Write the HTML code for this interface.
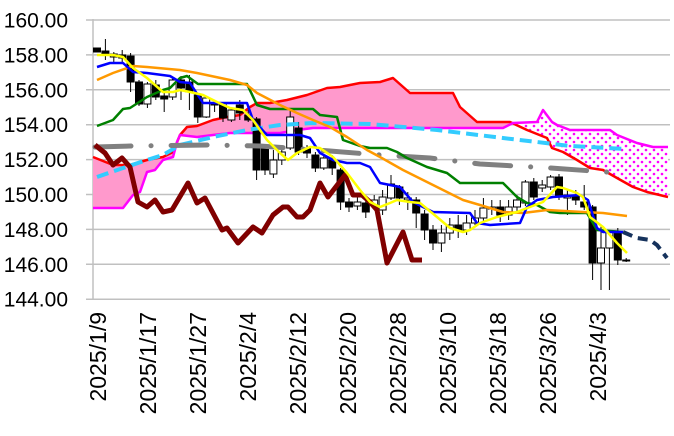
<!DOCTYPE html>
<html><head><meta charset="utf-8"><style>
html,body{margin:0;padding:0;background:#fff;}
svg{display:block;}
</style></head><body>
<svg id="c" width="674" height="436" xmlns="http://www.w3.org/2000/svg">
<defs>
<pattern id="dots" width="8" height="8" patternUnits="userSpaceOnUse">
<rect width="8" height="8" fill="#fff"/>
<circle cx="2" cy="2" r="1.3" fill="#ff00ff"/>
<circle cx="6" cy="6" r="1.3" fill="#ff00ff"/>
</pattern>
<clipPath id="cl"><rect x="0" y="0" width="513" height="436"/></clipPath>
<clipPath id="cr"><rect x="513" y="0" width="200" height="436"/></clipPath>
</defs>
<g id="grid" stroke="#c0c0c0" stroke-width="1.5"></g>
<g id="ylab" font-family="Liberation Sans, sans-serif" font-size="21" fill="#000" text-anchor="end"></g>
<g id="xlab" font-family="Liberation Sans, sans-serif" font-size="23" fill="#000"></g>
<g id="plot"></g>
</svg>
<script>
var NS="http://www.w3.org/2000/svg";
function el(p,t,a){var e=document.createElementNS(NS,t);for(var k in a)e.setAttribute(k,a[k]);p.appendChild(e);return e;}
var svg=document.getElementById('c');
var grid=document.getElementById('grid'),yl=document.getElementById('ylab'),xl=document.getElementById('xlab'),plot=document.getElementById('plot');
for(var v=160;v>=144;v-=2){var y=20+(160-v)*17.45;
 el(grid,'line',{x1:86,x2:670,y1:y,y2:y});
 var t=el(yl,'text',{x:68,y:y+7.5});t.textContent=v.toFixed(2);}
el(grid,'line',{x1:93,x2:93,y1:19,y2:300});
var labs=["2025/1/9","2025/1/17","2025/1/27","2025/2/4","2025/2/12","2025/2/20","2025/2/28","2025/3/10","2025/3/18","2025/3/26","2025/4/3"];
labs.forEach(function(s,k){var x=106+50*k;var t=el(xl,'text',{x:x,y:312,transform:'rotate(-90 '+x+' 312)','text-anchor':'end'});t.textContent=s;});
function P(a){return a.map(function(p){return p[0]+','+p[1]}).join(' ');}
var red=[[93,157],[113,165],[130,165],[147,160],[163,157],[173,152],[180,135],[187,127],[197,126],[213,120],[227,117],[240,115],[250,107],[257,103],[270,103],[287,100],[307,95],[327,88],[340,87],[360,83],[380,82],[393,78],[410,93],[453,93],[460,107],[477,122],[510,122],[527,130],[547,138],[552,148],[563,152],[577,160],[590,168],[603,170],[617,178],[633,187],[647,192],[668,197]];
var mag=[[93,208],[123,208],[133,195],[140,192],[147,172],[155,170],[163,160],[173,157],[177,142],[180,135],[197,137],[213,135],[230,133],[280,133],[297,130],[313,128],[503,128],[513,123],[537,122],[543,110],[552,122],[557,125],[570,130],[610,130],[617,135],[637,143],[653,147],[668,147]];
var poly=red.concat(mag.slice().reverse());
el(plot,'polygon',{points:P(poly),fill:'#ff99cc','clip-path':'url(#cl)'});
el(plot,'polygon',{points:P(poly),fill:'url(#dots)','clip-path':'url(#cr)'});
function line(pts,col,w,extra){var a={points:P(pts),fill:'none',stroke:col,'stroke-width':w,'stroke-linejoin':'round'};for(var k in extra)a[k]=extra[k];el(plot,'polyline',a);}
line(red,'#ff0000',2.5);line(mag,'#ff00ff',2.5);
var C=[[0,48,52,1,48,52],[1,51,54,1,39,60],[2,54,57,0,52,62],[3,55,58,1,50,63],[4,56,82,1,53,92],[5,82,104,1,80,106],[6,84,104,0,82,108],[7,85,97,1,80,100],[8,96,99,1,92,112],[9,80,97,0,78,100],[10,80,88,1,76,100],[11,82,92,1,75,110],[12,95,117,1,93,123],[13,98,117,0,96,118],[14,103,105,1,100,112],[15,105,118,1,104,122],[16,110,120,0,108,122],[17,105,113,1,100,120],[18,115,120,1,110,122],[19,119,170,1,117,180],[20,148,170,1,145,175],[21,160,174,0,150,178],[22,152,160,0,145,165],[23,117,148,0,110,150],[24,128,152,1,122,155],[25,148,153,1,145,158],[26,155,168,1,152,172],[27,158,168,0,155,170],[28,160,168,1,155,175],[29,170,202,1,168,210],[30,202,207,1,198,212],[31,202,206,0,195,210],[32,203,212,1,200,218],[33,200,205,0,195,210],[34,197,210,0,190,215],[35,184,198,0,175,200],[36,187,198,1,185,205],[37,198,200,0,192,210],[38,200,213,1,197,228],[39,214,230,1,210,240],[40,230,243,1,225,250],[41,233,243,0,225,252],[42,225,233,0,218,240],[43,225,230,1,215,238],[44,223,230,0,215,235],[45,218,223,0,210,225],[46,208,218,0,198,222],[47,207,209,0,200,215],[48,207,215,1,200,222],[49,207,215,0,200,220],[50,200,207,0,195,212],[51,182,203,0,180,206],[52,182,197,1,178,200],[53,185,188,0,180,192],[54,177,187,0,175,190],[55,177,197,1,174,200],[56,195,198,0,190,215],[57,195,200,1,190,205],[58,202,207,1,185,210],[59,207,263,1,205,280],[60,248,263,0,225,290],[61,232,248,0,230,290],[62,233,260,1,228,265],[63,260,261,0,258,262]];
C.forEach(function(c){var x=97+8.4*c[0];
 el(plot,'line',{x1:x,x2:x,y1:c[4],y2:c[5],stroke:'#000','stroke-width':1});
 el(plot,'rect',{x:x-3.5,y:c[1],width:7,height:Math.max(1,c[2]-c[1]),fill:c[3]?'#000':'#fff',stroke:'#000','stroke-width':1});});
var cyan=[[97,177],[123,168],[147,160],[163,155],[180,145],[213,137],[247,130],[280,125],[313,123],[370,124],[437,130],[503,138],[537,142],[570,146],[627,149]];
line(cyan,'#33ccff',4,{'stroke-dasharray':'12 6'});
var gray=[[95,147],[133,146],[210,145],[260,146],[330,151],[380,155],[430,158],[480,164],[550,168],[607,172]];
line(gray,'#808080',5,{'stroke-dasharray':'36 20 0.1 20','stroke-linecap':'round'});
var chik=[[95,145],[105,153],[113,165],[122,158],[130,167],[138,202],[147,207],[155,200],[163,212],[172,210],[188,183],[197,203],[205,198],[222,230],[227,228],[238,243],[253,227],[262,233],[273,215],[283,207],[288,207],[297,217],[303,217],[310,210],[320,183],[328,197],[345,175],[353,195],[362,195],[370,202],[377,210],[387,263],[403,232],[412,260],[422,260]];
line(chik,'#800000',5);
var green=[[97,126],[113,120],[123,109],[130,108],[147,97],[163,90],[170,88],[180,78],[187,76],[198,84],[247,84],[257,105],[270,109],[313,109],[320,115],[337,117],[343,140],[360,146],[370,148],[387,148],[397,152],[407,158],[427,167],[447,173],[460,183],[503,183],[517,197],[527,203],[537,205],[550,212],[560,213],[587,213],[597,230],[623,232]];
line(green,'#008000',2.5);
var orange=[[97,80],[113,73],[133,66],[147,67],[180,70],[197,73],[230,80],[247,85],[257,93],[280,105],[297,113],[313,120],[330,127],[347,137],[367,150],[380,157],[403,170],[437,187],[463,200],[480,205],[503,212],[523,213],[547,210],[583,212],[603,213],[627,216]];
line(orange,'#ff9900',2.5);
var blue=[[97,67],[110,63],[123,63],[133,72],[147,73],[170,76],[180,82],[190,83],[203,103],[247,103],[253,120],[267,135],[300,135],[310,138],[320,153],[333,160],[347,163],[360,163],[370,167],[380,183],[400,187],[413,202],[433,212],[470,213],[477,223],[490,225],[520,223],[527,207],[537,200],[553,197],[580,195],[588,200],[597,228],[603,232],[623,232]];
line(blue,'#0000ff',2.5);
var yel=[[97,55],[113,55],[123,57],[133,68],[147,78],[163,92],[173,92],[180,90],[190,92],[203,95],[217,102],[230,108],[243,110],[253,120],[267,140],[280,153],[288,160],[297,153],[310,147],[320,148],[333,157],[347,173],[360,190],[370,202],[380,207],[390,203],[397,200],[410,202],[420,203],[437,217],[450,228],[463,232],[470,230],[480,223],[497,217],[517,212],[530,207],[543,202],[557,187],[563,188],[577,193],[583,197],[590,217],[603,227],[617,243],[627,253]];
line(yel,'#ffff00',2.5);
var navy=[[623,232],[637,238],[650,240],[657,245],[667,258]];
line(navy,'#16325c',4,{'stroke-dasharray':'10 6'});
</script>
</body></html>
